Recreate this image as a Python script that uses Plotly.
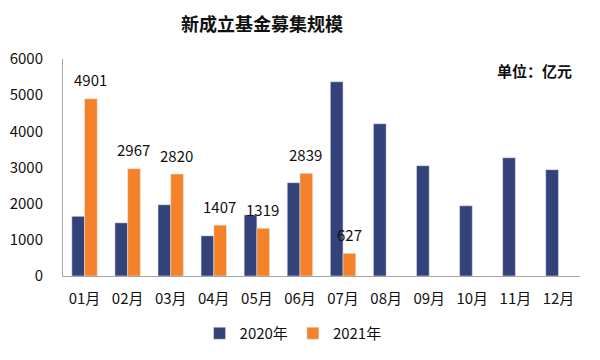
import plotly.graph_objects as go

months = ["01月", "02月", "03月", "04月", "05月", "06月", "07月", "08月", "09月", "10月", "11月", "12月"]
y2020 = [1650, 1470, 1970, 1110, 1690, 2580, 5370, 4210, 3050, 1940, 3270, 2940]
y2021 = [4901, 2967, 2820, 1407, 1319, 2839, 627]
y_ticks = [0, 1000, 2000, 3000, 4000, 5000, 6000]

blue = "#34427A"
orange = "#F5822A"
font_family = "Noto Sans CJK SC"

fig = go.Figure()
fig.add_trace(go.Bar(x=months, y=y2020, name="2020年", marker_color=blue, offsetgroup="a"))
fig.add_trace(go.Bar(x=months[:len(y2021)], y=y2021, name="2021年", marker_color=orange, offsetgroup="b"))

annotations = []
for m, v in zip(months, y2021):
    annotations.append(dict(x=m, y=v, text=str(v), showarrow=False, xref="x", yref="y",
                            xshift=6, yshift=19, font=dict(size=15, color="#111111", family=font_family)))
annotations.append(dict(x=0.988, y=0.949, xref="paper", yref="paper", text="<b>单位：亿元</b>",
                        showarrow=False, xanchor="right", yanchor="middle",
                        font=dict(size=15, color="#111111", family=font_family)))

fig.update_layout(
    width=592, height=352,
    paper_bgcolor="white", plot_bgcolor="white",
    margin=dict(l=55, r=20, t=51, b=84, autoexpand=False),
    title=dict(text="<b>新成立基金募集规模</b>", x=0.429, xanchor="center", y=0.952, yanchor="middle",
               xref="container", yref="container",
               font=dict(size=18, color="#111111", family=font_family)),
    barmode="group", bargap=0.41, bargroupgap=0,
    showlegend=True,
    legend=dict(orientation="h", x=0.445, xanchor="center", y=-0.265, yanchor="middle",
                font=dict(size=15, color="#111111", family=font_family), itemwidth=30,
                traceorder="normal"),
    annotations=annotations,
    font=dict(family=font_family, color="#111111"),
)
fig.update_xaxes(showline=True, linecolor="#A6A6A6", linewidth=1, ticks="", showgrid=False,
                 automargin=False, ticklabelstandoff=9,
                 tickfont=dict(size=15, color="#111111", family=font_family))
fig.update_yaxes(range=[0, 6000], tickvals=y_ticks, showline=True, linecolor="#A6A6A6", linewidth=1,
                 showgrid=False, zeroline=False, ticks="", automargin=False, ticklabelstandoff=16,
                 tickfont=dict(size=15, color="#111111", family=font_family))

fig.write_html("out.html")
